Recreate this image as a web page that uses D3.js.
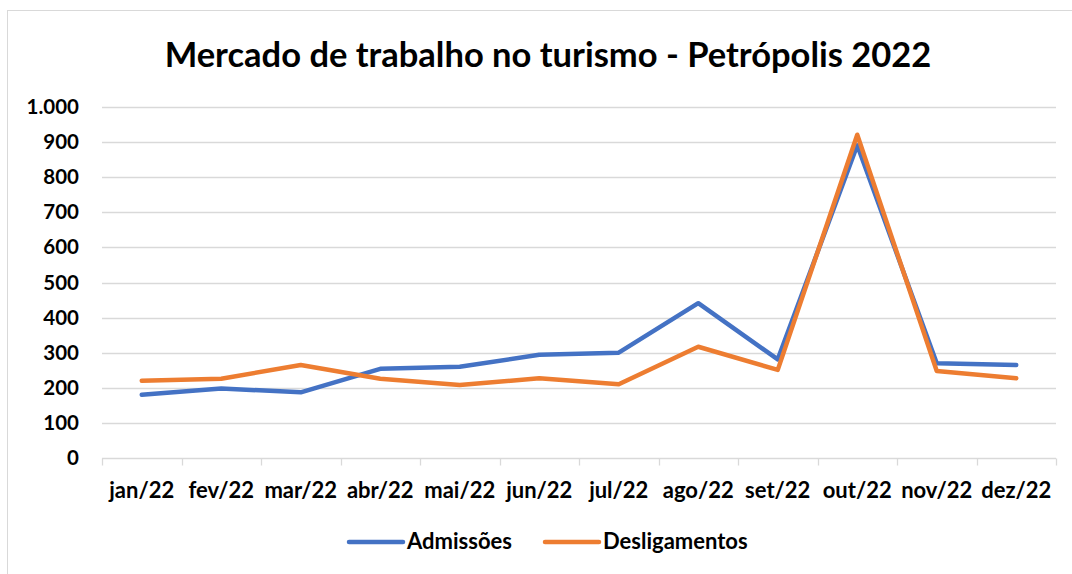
<!DOCTYPE html>
<html>
<head>
<meta charset="utf-8">
<script src="https://cdn.jsdelivr.net/npm/d3@7"></script>
<style>
  body { margin: 0; background: #fff; }
  svg { display: block; font-family: Lato, "Open Sans", sans-serif; }
</style>
</head>
<body>
<div id="chart"></div>
<script>
// data
var months = ["jan/22", "fev/22", "mar/22", "abr/22", "mai/22", "jun/22",
              "jul/22", "ago/22", "set/22", "out/22", "nov/22", "dez/22"];
var admissoes = [180, 198, 187, 254, 260, 294, 300, 441, 281, 891, 270, 265];
var desligamentos = [220, 226, 265, 226, 208, 227, 210, 317, 251, 921, 248, 227];
var yTicks = [0, 100, 200, 300, 400, 500, 600, 700, 800, 900, 1000];
var seriesNames = ["Admissões", "Desligamentos"];
var seriesColors = ["#4472C4", "#ED7D31"];

var width = 1072, height = 574;
var plot = {left: 102, right: 1056, top: 107, bottom: 458};

var svg = d3.select("#chart").append("svg")
    .attr("width", width)
    .attr("height", height);

// chart frame
svg.append("rect")
    .attr("x", 7.5).attr("y", 10.5)
    .attr("width", 1100).attr("height", 700)
    .attr("fill", "#fff")
    .attr("stroke", "#D9D9D9");

var x = d3.scaleBand().domain(months).range([plot.left, plot.right]);
var y = d3.scaleLinear().domain([0, 1000]).range([plot.bottom, plot.top]);

var fmt = function(d) { return d3.format(",")(d).replace(/,/g, "."); };

// title
svg.append("text")
    .attr("x", 548).attr("y", 67)
    .attr("text-anchor", "middle")
    .attr("font-size", 34.5).attr("font-weight", "bold")
    .attr("fill", "#000")
    .text("Mercado de trabalho no turismo - Petrópolis 2022");

// gridlines
svg.append("g")
    .selectAll("line")
    .data(yTicks.filter(function(d) { return d > 0; }))
    .enter().append("line")
    .attr("x1", plot.left).attr("x2", plot.right)
    .attr("y1", function(d) { return Math.round(y(d)) + 0.5; })
    .attr("y2", function(d) { return Math.round(y(d)) + 0.5; })
    .attr("stroke", "#D9D9D9").attr("stroke-width", 1.3);

// y axis labels
var yAxis = d3.axisLeft(y).tickValues(yTicks).tickFormat(fmt).tickSize(0).tickPadding(23);
var gy = svg.append("g").attr("transform", "translate(" + plot.left + ",0)").call(yAxis);
gy.select(".domain").remove();
gy.selectAll("text")
    .attr("font-size", 20.5).attr("font-weight", "bold")
    .attr("font-family", "Lato, sans-serif").attr("fill", "#000");

// x axis with ticks at the band edges
var gx = svg.append("g").attr("transform", "translate(0," + (Math.round(plot.bottom) + 0.5) + ")");
gx.append("line")
    .attr("x1", plot.left).attr("x2", plot.right)
    .attr("stroke", "#D9D9D9").attr("stroke-width", 1.3);
var edges = months.map(function(m) { return x(m); }).concat([plot.right]);
gx.selectAll("line.tick")
    .data(edges)
    .enter().append("line")
    .attr("class", "tick")
    .attr("x1", function(d) { return Math.round(d) + 0.5; })
    .attr("x2", function(d) { return Math.round(d) + 0.5; })
    .attr("y1", 0).attr("y2", 7)
    .attr("stroke", "#D9D9D9").attr("stroke-width", 1.3);
gx.selectAll("text")
    .data(months)
    .enter().append("text")
    .attr("x", function(d) { return x(d) + x.bandwidth() / 2; })
    .attr("y", 39)
    .attr("text-anchor", "middle")
    .attr("font-size", 22).attr("font-weight", "bold")
    .attr("fill", "#000")
    .text(function(d) { return d; });

// lines
var line = d3.line()
    .x(function(d, i) { return x(months[i]) + x.bandwidth() / 2; })
    .y(function(d) { return y(d); });

[admissoes, desligamentos].forEach(function(vals, i) {
    svg.append("path")
        .datum(vals)
        .attr("fill", "none")
        .attr("stroke", seriesColors[i])
        .attr("stroke-width", 4.5)
        .attr("stroke-linejoin", "round")
        .attr("stroke-linecap", "round")
        .attr("d", line);
});

// legend
var legendX = [349, 545];
var legend = svg.append("g");
seriesNames.forEach(function(name, i) {
    legend.append("line")
        .attr("x1", legendX[i]).attr("x2", legendX[i] + 54)
        .attr("y1", 542).attr("y2", 542)
        .attr("stroke", seriesColors[i])
        .attr("stroke-width", 4.5)
        .attr("stroke-linecap", "round");
    legend.append("text")
        .attr("x", legendX[i] + 58).attr("y", 549)
        .attr("font-size", 22).attr("font-weight", "bold")
        .attr("fill", "#000")
        .text(name);
});
</script>
</body>
</html>
